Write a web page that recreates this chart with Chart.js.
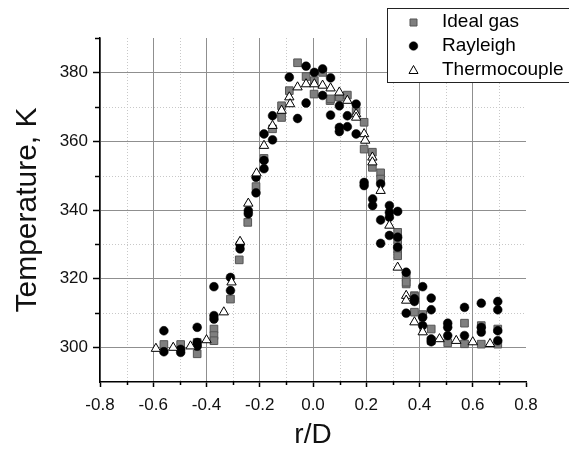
<!DOCTYPE html>
<html>
<head>
<meta charset="utf-8">
<script src="https://cdn.jsdelivr.net/npm/chart.js@4.4.1/dist/chart.umd.min.js"></script>
<style>
  html, body { margin: 0; padding: 0; background: #fff; }
  canvas { display: block; }
</style>
</head>
<body>
<canvas id="tempChart" width="569" height="452"></canvas>
<script>
// radial temperature profiles, r/D vs T
const idealGasR = [-0.56, -0.497, -0.435, -0.435, -0.372, -0.372, -0.372, -0.31, -0.277, -0.245, -0.214, -0.184,
  -0.152, -0.118, -0.118, -0.089, -0.058, -0.026, 0.005, 0.036, 0.064, 0.004, 0.066, 0.099, 0.129, 0.162,
  0.192, 0.192, 0.223, 0.223, 0.254, 0.254, 0.318, 0.318, 0.318, 0.318, 0.35, 0.35, 0.35, 0.381, 0.381,
  0.381, 0.412, 0.444, 0.444, 0.506, 0.569, 0.569, 0.632, 0.632, 0.694, 0.694];
const idealGasT = [300.9, 300.9, 298.2, 301.5, 305.4, 303.5, 302, 314.1, 325.5, 336.4, 346.8, 355,
  363.6, 366.9, 370.3, 374.7, 382.8, 378.8, 377.6, 380, 371.8, 373.7, 372.3, 372.8, 373.4, 368.9,
  365.5, 357.7, 356.8, 352.4, 350.8, 349, 333.5, 331.1, 328.7, 326.7, 320.4, 318.5, 319, 315.1, 314.8,
  310.3, 309.6, 305.4, 302, 301.4, 307.1, 301.1, 306.4, 301, 305.4, 301];

const rayleighR = [-0.56, -0.56, -0.497, -0.497, -0.435, -0.435, -0.435, -0.372, -0.372, -0.372, -0.31, -0.31,
  -0.274, -0.274, -0.243, -0.243, -0.214, -0.214, -0.184, -0.184, -0.184, -0.152, -0.152, -0.089, -0.058,
  -0.026, -0.026, 0.005, 0.036, 0.036, 0.066, 0.099, 0.066, 0.129, 0.162, 0.099, 0.099, 0.129, 0.162,
  0.192, 0.192, 0.224, 0.224, 0.254, 0.254, 0.254, 0.287, 0.287, 0.287, 0.287, 0.318, 0.318, 0.318,
  0.35, 0.35, 0.381, 0.381, 0.412, 0.412, 0.412, 0.444, 0.444, 0.444, 0.444, 0.506, 0.506, 0.506,
  0.569, 0.569, 0.632, 0.632, 0.632, 0.694, 0.694, 0.694, 0.694];
const rayleighT = [304.9, 298.8, 298.6, 299.5, 305.9, 301.5, 300.4, 317.7, 309.3, 308.3, 320.4, 316.6,
  328.7, 330, 338.9, 339.8, 345, 349.5, 354.4, 352, 362.1, 360.4, 367.4, 378.6, 366.6,
  381.8, 371.1, 380, 381, 373.3, 378.4, 370.3, 367.6, 367.4, 370.8, 364, 362.8, 364.2, 362.1,
  348, 347.1, 343.2, 341.3, 347.6, 337.1, 330.3, 341.3, 339.3, 337.9, 332.6, 339.6, 332.1, 329.2,
  321.9, 310, 314.2, 313.4, 317.7, 308.8, 306.4, 314.4, 311, 302.5, 301.7, 307.1, 305.9, 303.5,
  311.7, 303.5, 312.9, 305.9, 304.5, 313.4, 311, 304.9, 302];

const thermoR = [-0.59, -0.525, -0.46, -0.40, -0.335, -0.306, -0.274, -0.243, -0.212, -0.184, -0.152, -0.118,
  -0.089, -0.086, -0.058, -0.026, 0.005, 0.036, 0.066, 0.099, 0.129, 0.162, 0.162, 0.192, 0.196,
  0.223, 0.223, 0.254, 0.287, 0.318, 0.35, 0.35, 0.381, 0.412, 0.475, 0.538, 0.6, 0.665];
const thermoT = [299.7, 300, 300.4, 302.2, 310.3, 319, 330.8, 341.9, 350.7, 358.7, 364.5, 368.9,
  372.8, 370.8, 375.7, 376.6, 376.6, 376.2, 375.4, 374.2, 371.8, 367.9, 366.9, 362.1, 360.2,
  355.3, 353.9, 345.6, 335.5, 323.3, 315.1, 313.7, 307.4, 304.5, 302.5, 302, 301.6, 301.1];

const xTicks = [-0.8, -0.6, -0.4, -0.2, 0.0, 0.2, 0.4, 0.6, 0.8];
const xMinorTicks = [-0.7, -0.5, -0.3, -0.1, 0.1, 0.3, 0.5, 0.7];
const yTicks = [300, 320, 340, 360, 380];
const yMinorTicks = [310, 330, 350, 370, 390];

const seriesNames = ['Ideal gas', 'Rayleigh', 'Thermocouple'];

const FONT = "'Liberation Sans', Arial, sans-serif";

function points(rs, ts) {
  return rs.map((r, i) => ({ x: r, y: ts[i] }));
}

// dotted minor grid and short minor ticks, under everything else
const minorGrid = {
  id: 'minorGrid',
  beforeDraw(chart) {
    const { ctx, chartArea: a, scales: { x, y } } = chart;
    ctx.save();
    ctx.lineWidth = 1;
    ctx.strokeStyle = '#c8c8c8';
    ctx.setLineDash([1, 2]);
    xMinorTicks.forEach(v => {
      const px = Math.round(x.getPixelForValue(v)) + 0.5;
      ctx.beginPath(); ctx.moveTo(px, a.top); ctx.lineTo(px, a.bottom); ctx.stroke();
    });
    yMinorTicks.forEach(v => {
      if (v >= 390) return;
      const py = Math.round(y.getPixelForValue(v)) + 0.5;
      ctx.beginPath(); ctx.moveTo(a.left, py); ctx.lineTo(a.right, py); ctx.stroke();
    });
    ctx.setLineDash([]);
    ctx.strokeStyle = '#000';
    ctx.lineWidth = 1.5;
    xMinorTicks.forEach(v => {
      const px = Math.round(x.getPixelForValue(v)) + 0.5;
      ctx.beginPath(); ctx.moveTo(px, a.bottom); ctx.lineTo(px, a.bottom + 3); ctx.stroke();
    });
    yMinorTicks.forEach(v => {
      const py = Math.round(y.getPixelForValue(v)) + 0.5;
      ctx.beginPath(); ctx.moveTo(a.left, py); ctx.lineTo(a.left - 5, py); ctx.stroke();
    });
    ctx.restore();
  }
};

function drawMarker(ctx, style, cx, cy) {
  ctx.beginPath();
  if (style === 'rect') {
    ctx.rect(cx - 3.5, cy - 3.5, 7, 7);
    ctx.fillStyle = '#7f7f7f'; ctx.strokeStyle = '#555'; ctx.lineWidth = 1;
  } else if (style === 'circle') {
    ctx.arc(cx, cy, 4.3, 0, Math.PI * 2);
    ctx.fillStyle = '#000'; ctx.strokeStyle = '#000'; ctx.lineWidth = 0.5;
  } else {
    ctx.moveTo(cx, cy - 4.5);
    ctx.lineTo(cx + 4.5, cy + 3.5);
    ctx.lineTo(cx - 4.5, cy + 3.5);
    ctx.closePath();
    ctx.fillStyle = '#fff'; ctx.strokeStyle = '#000'; ctx.lineWidth = 1;
  }
  ctx.fill();
  ctx.stroke();
}

// boxed legend in the top right corner
const legendBox = {
  id: 'legendBox',
  afterDraw(chart) {
    const ctx = chart.ctx;
    ctx.save();
    ctx.fillStyle = '#fff';
    ctx.fillRect(387.5, 8.5, 200, 74);
    ctx.strokeStyle = '#222';
    ctx.lineWidth = 1;
    ctx.strokeRect(387.5, 8.5, 200, 74);
    const rows = [22.5, 46, 70];
    chart.data.datasets.forEach((ds, i) => {
      drawMarker(ctx, ds.pointStyle, 413.5, rows[i]);
      ctx.fillStyle = '#000';
      ctx.font = '19px ' + FONT;
      ctx.textBaseline = 'middle';
      ctx.textAlign = 'left';
      ctx.fillText(seriesNames[i], 442, rows[i] - 0.5);
    });
    ctx.restore();
  }
};

new Chart(document.getElementById('tempChart'), {
  type: 'scatter',
  data: {
    datasets: [
      {
        label: seriesNames[0],
        data: points(idealGasR, idealGasT),
        pointStyle: 'rect',
        pointRadius: 5.4,
        pointHoverRadius: 5.4,
        pointBackgroundColor: '#7f7f7f',
        pointBorderColor: '#555',
        pointBorderWidth: 1,
        order: 3
      },
      {
        label: seriesNames[1],
        data: points(rayleighR, rayleighT),
        pointStyle: 'circle',
        pointRadius: 4.4,
        pointHoverRadius: 4.4,
        pointBackgroundColor: '#000',
        pointBorderColor: '#000',
        pointBorderWidth: 0.5,
        order: 2
      },
      {
        label: seriesNames[2],
        data: points(thermoR, thermoT),
        pointStyle: 'triangle',
        pointRadius: 5.4,
        pointHoverRadius: 5.4,
        pointBackgroundColor: '#fff',
        pointBorderColor: '#000',
        pointBorderWidth: 1,
        order: 1
      }
    ]
  },
  options: {
    responsive: false,
    animation: false,
    layout: { padding: { top: 38, right: 43, left: 0, bottom: 0 } },
    plugins: {
      legend: { display: false },
      tooltip: { enabled: false }
    },
    scales: {
      x: {
        type: 'linear',
        min: -0.8,
        max: 0.8,
        afterBuildTicks: s => { s.ticks = xTicks.map(v => ({ value: v })); },
        afterFit: s => { s.height = 70; },
        border: { color: '#000', width: 1.5 },
        grid: {
          color: c => (c.tick && Math.abs(c.tick.value - 0.8) < 1e-9) ? 'rgba(0,0,0,0)' : '#8f8f8f',
          lineWidth: 1,
          tickLength: 5,
          tickColor: '#000',
          tickWidth: 1.5
        },
        ticks: {
          color: '#111',
          padding: 8,
          maxRotation: 0,
          font: { family: FONT, size: 17 },
          callback: v => v.toFixed(1)
        },
        title: {
          display: true,
          text: 'r/D',
          color: '#111',
          font: { family: FONT, size: 28 },
          padding: { top: 0, bottom: 0 }
        }
      },
      y: {
        type: 'linear',
        min: 290,
        max: 390,
        afterBuildTicks: s => { s.ticks = yTicks.map(v => ({ value: v })); },
        afterFit: s => { s.width = 100; },
        border: { color: '#000', width: 1.5 },
        grid: {
          color: '#8f8f8f',
          lineWidth: 1,
          tickLength: 7,
          tickColor: '#000',
          tickWidth: 1.5
        },
        ticks: {
          color: '#111',
          padding: 5,
          font: { family: FONT, size: 17 }
        },
        title: {
          display: true,
          text: 'Temperature, K',
          color: '#111',
          font: { family: FONT, size: 30 },
          padding: { top: 10, bottom: 0 }
        }
      }
    }
  },
  plugins: [minorGrid, legendBox]
});
</script>
</body>
</html>
